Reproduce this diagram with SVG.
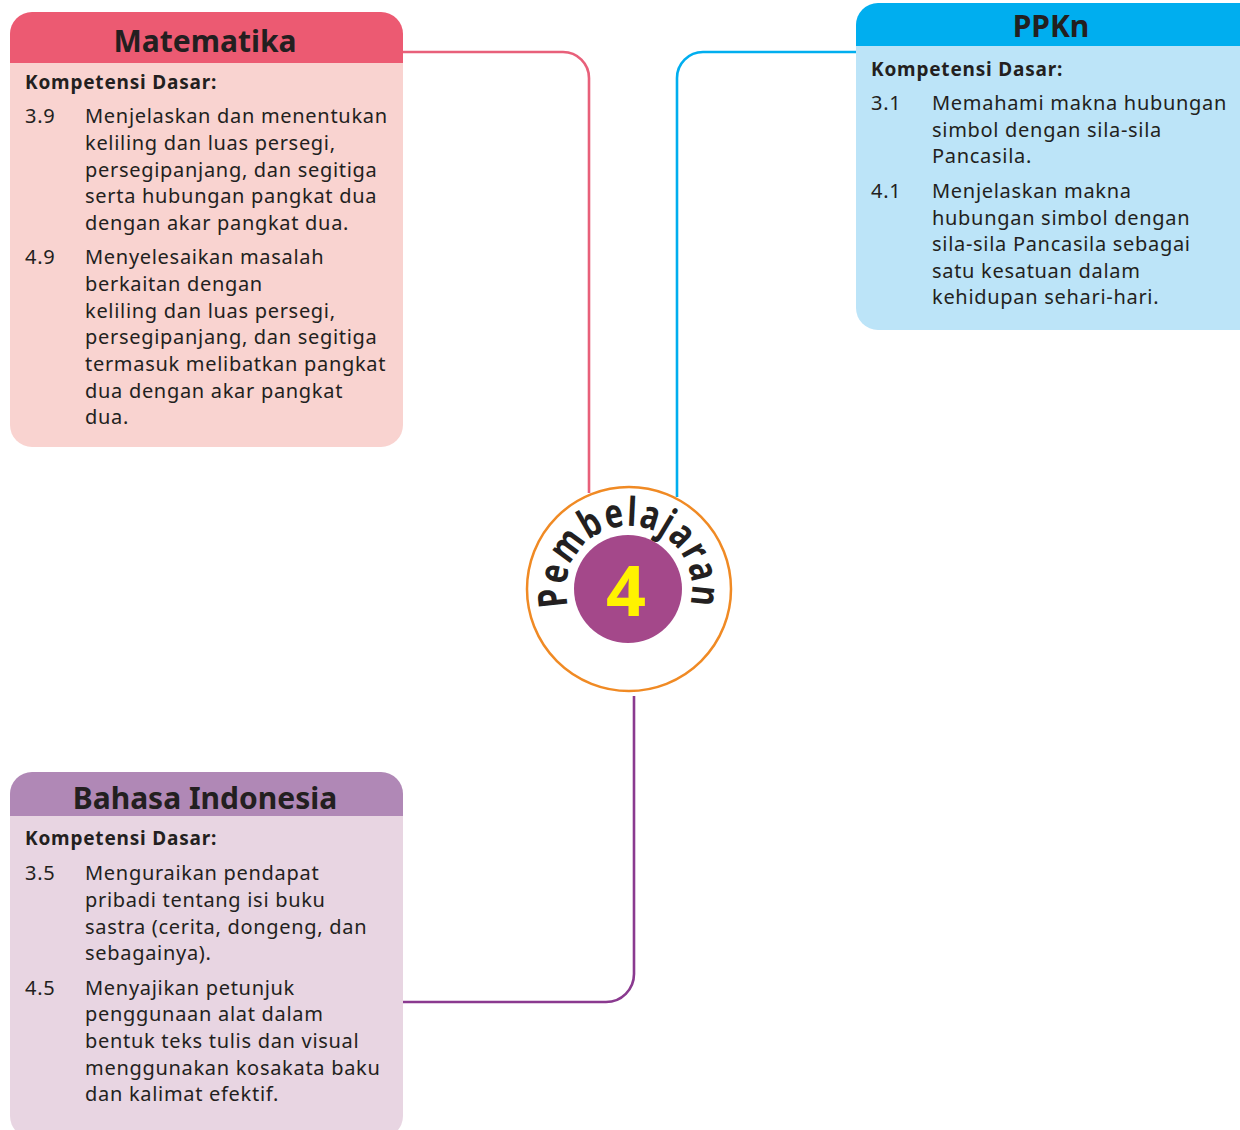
<svg xmlns="http://www.w3.org/2000/svg" width="1240" height="1130" viewBox="0 0 1240 1130">
<style>
.t{font-family:"Noto Sans","Open Sans",sans-serif;font-size:20px;letter-spacing:0.7px;fill:#231f20}
.kd{font-family:"Noto Sans","Open Sans",sans-serif;font-size:19px;font-weight:bold;letter-spacing:0.8px;fill:#231f20}
.h{font-family:"Noto Sans","Open Sans",sans-serif;font-size:30px;font-weight:bold;fill:#231f20;text-anchor:middle}
.c{fill:none;stroke-width:2.6}
</style>
<defs>
<path id="arc" d="M 577.4 625.1 A 63 63 0 1 1 680.6 625.1"/>
</defs>
<rect width="1240" height="1130" fill="#ffffff"/>
<g id="connectors">
<path class="c" stroke="#e8607a" d="M403,52 H563 A26,26 0 0 1 589,78 V493"/>
<path class="c" stroke="#00aeef" d="M856,52 H703 A26,26 0 0 0 677,78 V497"/>
<path class="c" stroke="#8a3a8f" d="M634,696 V974 A28,28 0 0 1 606,1002 H403"/>
</g>
<g id="matematika">
<path d="M10,34 A22,22 0 0 1 32,12 H381 A22,22 0 0 1 403,34 V63 H10 Z" fill="#ec5a72"/>
<path d="M10,63 H403 V425 A22,22 0 0 1 381,447 H32 A22,22 0 0 1 10,425 Z" fill="#f9d3d0"/>
<text class="h" x="205" y="52">Matematika</text>
<text class="kd" x="25" y="89">Kompetensi Dasar:</text>
<text class="t" x="25" y="123">3.9</text>
<text class="t" x="85" y="123">Menjelaskan dan menentukan</text>
<text class="t" x="85" y="150">keliling dan luas persegi,</text>
<text class="t" x="85" y="177">persegipanjang, dan segitiga</text>
<text class="t" x="85" y="203">serta hubungan pangkat dua</text>
<text class="t" x="85" y="230">dengan akar pangkat dua.</text>
<text class="t" x="25" y="264">4.9</text>
<text class="t" x="85" y="264">Menyelesaikan masalah</text>
<text class="t" x="85" y="291">berkaitan dengan</text>
<text class="t" x="85" y="318">keliling dan luas persegi,</text>
<text class="t" x="85" y="344">persegipanjang, dan segitiga</text>
<text class="t" x="85" y="371">termasuk melibatkan pangkat</text>
<text class="t" x="85" y="398">dua dengan akar pangkat</text>
<text class="t" x="85" y="424">dua.</text>
</g>
<g id="ppkn">
<path d="M856,25 A22,22 0 0 1 878,3 H1240 V46 H856 Z" fill="#00aeef"/>
<path d="M856,46 H1240 V330 H878 A22,22 0 0 1 856,308 Z" fill="#bce4f8"/>
<text class="h" x="1051" y="37">PPKn</text>
<text class="kd" x="871" y="76">Kompetensi Dasar:</text>
<text class="t" x="871" y="110">3.1</text>
<text class="t" x="932" y="110">Memahami makna hubungan</text>
<text class="t" x="932" y="137">simbol dengan sila-sila</text>
<text class="t" x="932" y="163">Pancasila.</text>
<text class="t" x="871" y="198">4.1</text>
<text class="t" x="932" y="198">Menjelaskan makna</text>
<text class="t" x="932" y="225">hubungan simbol dengan</text>
<text class="t" x="932" y="251">sila-sila Pancasila sebagai</text>
<text class="t" x="932" y="278">satu kesatuan dalam</text>
<text class="t" x="932" y="304">kehidupan sehari-hari.</text>
</g>
<g id="bahasa">
<path d="M10,794 A22,22 0 0 1 32,772 H381 A22,22 0 0 1 403,794 V816 H10 Z" fill="#b088b6"/>
<path d="M10,816 H403 V1116 A22,22 0 0 1 381,1138 H32 A22,22 0 0 1 10,1116 Z" fill="#e8d5e2"/>
<text class="h" x="205" y="809">Bahasa Indonesia</text>
<text class="kd" x="25" y="845">Kompetensi Dasar:</text>
<text class="t" x="25" y="880">3.5</text>
<text class="t" x="85" y="880">Menguraikan pendapat</text>
<text class="t" x="85" y="907">pribadi tentang isi buku</text>
<text class="t" x="85" y="934">sastra (cerita, dongeng, dan</text>
<text class="t" x="85" y="960">sebagainya).</text>
<text class="t" x="25" y="995">4.5</text>
<text class="t" x="85" y="995">Menyajikan petunjuk</text>
<text class="t" x="85" y="1021">penggunaan alat dalam</text>
<text class="t" x="85" y="1048">bentuk teks tulis dan visual</text>
<text class="t" x="85" y="1075">menggunakan kosakata baku</text>
<text class="t" x="85" y="1101">dan kalimat efektif.</text>
</g>
<g id="center">
<circle cx="629" cy="589" r="102" fill="#ffffff" stroke="#f08a24" stroke-width="2.5"/>
<circle cx="628" cy="589" r="54" fill="#a4488a"/>
<text x="626" y="616" font-family="Noto Sans, sans-serif" font-size="70" font-weight="bold" fill="#fff200" text-anchor="middle">4</text>
<text font-family="Noto Sans, sans-serif" font-size="40" font-weight="bold" fill="#231f20" letter-spacing="2"><textPath href="#arc" startOffset="50%" text-anchor="middle" textLength="232" lengthAdjust="spacingAndGlyphs">Pembelajaran</textPath></text>
</g>
</svg>
